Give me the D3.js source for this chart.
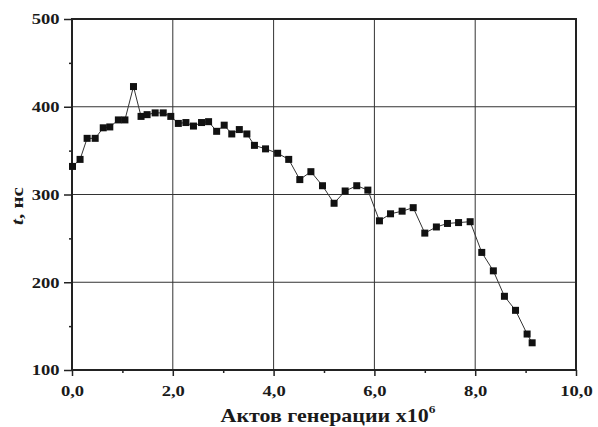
<!DOCTYPE html>
<html>
<head>
<meta charset="utf-8">
<script src="https://cdn.jsdelivr.net/npm/d3@7"></script>
<style>
  html, body { margin: 0; padding: 0; background: #fff; }
  svg { display: block; }
  text { font-family: "Liberation Serif", "Times New Roman", serif; font-weight: bold; fill: #1a1a1a; }
</style>
</head>
<body>
<svg id="chart" width="598" height="427"></svg>
<script>
// Generation acts (x10^6) and the corresponding time, ns
const acts = [0.01, 0.16, 0.30, 0.46, 0.62, 0.75, 0.92, 1.05, 1.22, 1.37, 1.49, 1.65, 1.81, 1.96,
  2.11, 2.26, 2.41, 2.57, 2.71, 2.87, 3.02, 3.17, 3.32, 3.47, 3.62, 3.84, 4.08, 4.30, 4.52, 4.74,
  4.97, 5.20, 5.42, 5.65, 5.87, 6.10, 6.32, 6.55, 6.77, 7.00, 7.23, 7.45, 7.67, 7.90, 8.13, 8.36,
  8.58, 8.80, 9.03, 9.13];
const times = [332, 340, 364, 364, 376, 377, 385, 385, 423, 389, 391, 393, 393, 389,
  381, 382, 378, 382, 383, 372, 379, 369, 374, 369, 356, 352, 347, 340, 317, 326,
  310, 290, 304, 310, 305, 270, 278, 281, 285, 256, 263, 267, 268, 269, 234, 213,
  184, 168, 141, 131];
const xTicks = [0, 2, 4, 6, 8, 10];
const xMinor = [1, 3, 5, 7, 9];
const yTicks = [100, 200, 300, 400, 500];
const yMinor = [150, 250, 350, 450];

const svg = d3.select("#chart");
const m = { left: 72, top: 19, right: 576, bottom: 370 };
const stretch = 1.24; // wide bold serif lettering

const x = d3.scaleLinear().domain([0, 10]).range([m.left, m.right]);
const y = d3.scaleLinear().domain([100, 500]).range([m.bottom, m.top]);
const fmt = d => d3.format(".1f")(d).replace(".", ",");

// grid
svg.append("g").selectAll("line").data(xTicks.slice(1, -1)).join("line")
  .attr("x1", d => x(d)).attr("x2", d => x(d)).attr("y1", m.top).attr("y2", m.bottom)
  .attr("stroke", "#333").attr("stroke-width", 1);
svg.append("g").selectAll("line").data(yTicks.slice(1, -1)).join("line")
  .attr("y1", d => y(d)).attr("y2", d => y(d)).attr("x1", m.left).attr("x2", m.right)
  .attr("stroke", "#333").attr("stroke-width", 1);

// axes
const gx = svg.append("g").attr("transform", `translate(0,${m.bottom})`)
  .call(d3.axisBottom(x).tickValues(xTicks).tickFormat(fmt).tickSize(6).tickPadding(0));
gx.selectAll("text").attr("font-size", 15).attr("y", 26).attr("dy", null)
  .attr("transform", `scale(${stretch},1)`);
svg.append("g").attr("transform", `translate(0,${m.bottom})`)
  .call(d3.axisBottom(x).tickValues(xMinor).tickFormat("").tickSize(3));

const gy = svg.append("g").attr("transform", `translate(${m.left},0)`)
  .call(d3.axisLeft(y).tickValues(yTicks).tickFormat(d3.format("d")).tickSize(8));
gy.selectAll("text").attr("font-size", 15).attr("x", -12.5 / stretch)
  .attr("transform", `scale(${stretch},1)`);
svg.append("g").attr("transform", `translate(${m.left},0)`)
  .call(d3.axisLeft(y).tickValues(yMinor).tickFormat("").tickSize(3));

svg.selectAll(".domain").remove();
svg.selectAll(".tick line").attr("stroke", "#222").attr("stroke-width", 1.5);
svg.selectAll(".tick text").attr("fill", "#1a1a1a");

// frame
svg.append("rect").attr("x", m.left).attr("y", m.top)
  .attr("width", m.right - m.left).attr("height", m.bottom - m.top)
  .attr("fill", "none").attr("stroke", "#222").attr("stroke-width", 2);

// series
const pts = acts.map((a, i) => [a, times[i]]);
svg.append("path").datum(pts)
  .attr("fill", "none").attr("stroke", "#333").attr("stroke-width", 1)
  .attr("d", d3.line().x(d => x(d[0])).y(d => y(d[1])));
const s = 7;
svg.append("g").selectAll("rect").data(pts).join("rect")
  .attr("x", d => x(d[0]) - s / 2).attr("y", d => y(d[1]) - s / 2)
  .attr("width", s).attr("height", s).attr("fill", "#111");

// axis titles
const titleX = 328;
const xt = svg.append("text").attr("x", titleX / 1.22).attr("y", 422)
  .attr("transform", `scale(1.22,1)`)
  .attr("text-anchor", "middle").attr("font-size", 18);
xt.append("tspan").text("Актов генерации x10");
xt.append("tspan").text("6").attr("font-size", 11).attr("dy", -9);

const yt = svg.append("text").attr("transform", `translate(23,206) rotate(-90) scale(${stretch},1)`)
  .attr("text-anchor", "middle").attr("font-size", 17);
yt.append("tspan").text("t").attr("font-style", "italic");
yt.append("tspan").text(", нс");
</script>
</body>
</html>
